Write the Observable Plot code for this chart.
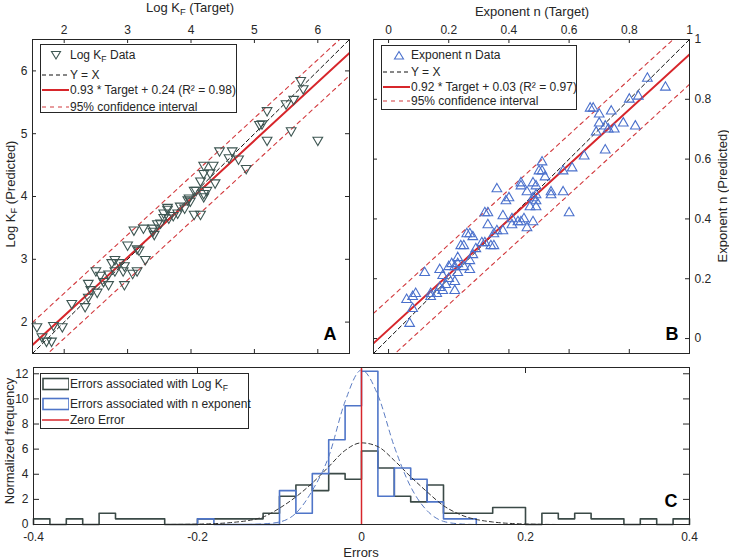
<!DOCTYPE html>
<html><head><meta charset="utf-8">
<script src="https://cdn.jsdelivr.net/npm/d3@7"></script>
<script src="https://cdn.jsdelivr.net/npm/@observablehq/plot@0.6"></script>
<style>
body{margin:0;background:#fff;}
#root{position:relative;width:729px;height:559px;font-family:"Liberation Sans",Arial,sans-serif;color:#262626;overflow:hidden;background:#fff}
#root svg{position:absolute}
.ttl{position:absolute;font-size:13px;line-height:15px;white-space:nowrap}
.rot{transform:translate(-50%,-50%) rotate(-90deg)}
.hc{transform:translateX(-50%)}
.legend{position:absolute;border:1px solid #262626;background:#fff;font-size:12px;line-height:14px;box-sizing:border-box}
.legend .row{position:absolute;left:0;white-space:nowrap}
.legend .row span{position:absolute;left:29px;top:0}
.legend .row svg{position:absolute;left:0;top:0}
sub{font-size:72%;vertical-align:-0.3em;line-height:0}
</style></head><body><div id="root"></div>
<script>
// ---------- data ----------
const kfTarget = [5.73,5.77,5.62,5.5,5.2,5.12,5.08,5.58,5.2,6.0,4.45,4.65,4.6,4.75,4.87,4.35,4.2,4.2,4.3,4.38,4.15,4.08,4.2,3.97,4.25,4.2,3.83,3.9,4.15,4.05,3.63,3.72,3.57,3.47,3.4,3.25,3.1,3.42,3.0,3.18,3.28,2.8,2.87,2.75,2.95,2.93,3.08,3.15,2.8,2.7,2.5,2.57,2.62,2.7,2.95,2.38,2.42,2.52,2.38,2.33,2.12,1.97,1.83,1.57,1.65,1.72,1.8,4.05,3.95,3.99,3.63,3.57,3.79,3.65,3.52,3.4,3.15];
const kfPred = [5.85,5.72,5.55,5.48,5.37,5.16,5.15,5.05,4.9,4.9,4.73,4.73,4.62,4.6,4.45,4.5,4.5,4.37,4.38,4.22,4.25,4.1,4.05,3.98,4.1,4.0,3.85,3.82,3.72,3.72,3.8,3.7,3.67,3.57,3.5,3.5,3.47,3.4,3.23,3.15,3.0,3.0,2.95,2.95,2.9,2.82,2.78,2.82,2.82,2.77,2.82,2.75,2.65,2.6,2.6,2.62,2.52,2.48,2.4,2.25,2.3,1.93,1.95,1.93,1.77,1.7,1.7,4.1,3.95,3.93,3.83,3.74,3.74,3.66,3.58,3.45,3.17];
const nTarget = [0.86,0.92,0.83,0.80,0.67,0.68,0.74,0.70,0.70,0.78,0.72,0.82,0.75,0.69,0.73,0.72,0.65,0.51,0.50,0.51,0.58,0.61,0.52,0.48,0.44,0.36,0.58,0.54,0.46,0.40,0.49,0.39,0.49,0.32,0.60,0.38,0.41,0.43,0.48,0.33,0.41,0.36,0.46,0.38,0.35,0.26,0.28,0.31,0.35,0.25,0.29,0.28,0.23,0.27,0.21,0.12,0.17,0.20,0.22,0.25,0.27,0.23,0.18,0.20,0.22,0.19,0.17,0.22,0.18,0.16,0.14,0.14,0.09,0.08,0.06,0.08,0.07,0.49,0.48,0.49,0.54,0.44,0.47,0.45,0.33,0.44,0.27,0.24,0.34,0.32,0.23];
const nPred = [0.87,0.84,0.81,0.80,0.77,0.77,0.76,0.75,0.72,0.72,0.71,0.71,0.70,0.69,0.70,0.63,0.61,0.59,0.56,0.56,0.56,0.57,0.54,0.52,0.52,0.50,0.49,0.49,0.49,0.47,0.48,0.46,0.44,0.42,0.42,0.41,0.40,0.39,0.39,0.38,0.38,0.36,0.37,0.36,0.35,0.35,0.34,0.32,0.31,0.31,0.30,0.28,0.27,0.26,0.25,0.22,0.23,0.24,0.24,0.24,0.23,0.22,0.21,0.20,0.19,0.18,0.17,0.16,0.16,0.15,0.14,0.15,0.15,0.14,0.13,0.10,0.05,0.51,0.47,0.46,0.48,0.51,0.44,0.40,0.42,0.39,0.35,0.31,0.31,0.32,0.25];

const kfFit = {slope: 0.93, intercept: 0.24, ci: 0.36};
const nFit = {slope: 0.92, intercept: 0.03, ci: 0.10};

const kfDomain = [1.5, 6.5];
const nDomain = [-0.05, 1];
const kfTicks = [2, 3, 4, 5, 6];
const nTicks = [0, 0.2, 0.4, 0.6, 0.8, 1];

// histograms of errors (normalized frequency), bin width 0.02
const binWidth = 0.02;
const kfErrStart = -0.4;
const kfErrHeights = [0.45,0,0.45,0,0.9,0.45,0.45,0.45,0,0,0.45,0.45,0.45,0.45,0.9,2.25,3.15,2.7,4.05,3.6,5.85,4.5,2.25,1.8,3.15,0.9,0.9,0.9,1.35,1.35,0,0.9,0.45,0.9,0.45,0.45,0,0.45,0,0.45];
const nErrStart = -0.2;
const nErrHeights = [0.45,0,0,0,0,2.7,0.9,4.05,6.75,9.45,12.2,2.25,4.5,3.6,1.8,0.45,0.45];
// fitted normal curves
const kfCurveX = [-0.24,-0.2,-0.16,-0.12,-0.1,-0.08,-0.06,-0.04,-0.02,0,0.02,0.04,0.06,0.08,0.1,0.12,0.16,0.2,0.24];
const kfCurveY = [0.0,0.03,0.15,0.6,1.3,2.2,3.3,4.6,5.9,6.5,6.2,5.1,3.8,2.6,1.5,0.8,0.2,0.04,0.0];
const nCurveX = [-0.14,-0.12,-0.1,-0.08,-0.06,-0.04,-0.02,0,0.02,0.04,0.06,0.08,0.1,0.12,0.14];
const nCurveY = [0.0,0.05,0.2,0.9,2.7,5.4,9.8,12.3,10.3,6.2,3.0,1.1,0.25,0.05,0.0];
const errDomain = [-0.4, 0.4];
const errTicks = [-0.4, -0.2, 0, 0.2, 0.4];
const freqDomain = [0, 12.5];
const freqTicks = [0, 2, 4, 6, 8, 10, 12];

// ---------- styles ----------
const C = {
  axis: "#262626", gray: "#3d5652", grayHist: "#3b4a47", blue: "#4a70cc", blueHist: "#4f75c8",
  blueCurve: "#5a7bc2", red: "#d7262b", redDash: "#d23a3e"
};
const font = {fontFamily: "'Liberation Sans', Arial, sans-serif", fontSize: "12px", color: "#262626", background: "none", overflow: "visible"};
const root = document.getElementById("root");
const fmt = d => String(d);

function boxTicks(tx, ty, iw, ih, L, sides) {
  const m = [];
  const o = {stroke: C.axis, strokeWidth: 1};
  if (sides.includes("b")) m.push(Plot.tickX(tx, {x: d => d, insetTop: ih - L, ...o}));
  if (sides.includes("t")) m.push(Plot.tickX(tx, {x: d => d, insetBottom: ih - L, ...o}));
  if (sides.includes("l")) m.push(Plot.tickY(ty, {y: d => d, insetRight: iw - L, ...o}));
  if (sides.includes("r")) m.push(Plot.tickY(ty, {y: d => d, insetLeft: iw - L, ...o}));
  return m;
}
function fitLines(fit, domain) {
  const line = off => domain.map(x => ({x, y: fit.slope * x + fit.intercept + off}));
  return [
    Plot.line(domain.map(x => ({x, y: x})), {x: "x", y: "y", stroke: "#111", strokeWidth: 1, strokeDasharray: "4,3", clip: true}),
    Plot.line(line(fit.ci), {x: "x", y: "y", stroke: C.redDash, strokeWidth: 1.1, strokeDasharray: "4,4", clip: true}),
    Plot.line(line(-fit.ci), {x: "x", y: "y", stroke: C.redDash, strokeWidth: 1.1, strokeDasharray: "4,4", clip: true}),
    Plot.line(line(0), {x: "x", y: "y", stroke: C.red, strokeWidth: 2, clip: true})
  ];
}
function place(svg, left, top) { svg.style.left = left + "px"; svg.style.top = top + "px"; root.appendChild(svg); }

// ---------- Panel A ----------
{
  const W = 365, H = 360, mL = 32, mR = 16, mT = 39, mB = 7;
  const iw = W - mL - mR, ih = H - mT - mB;
  const data = kfTarget.map((t, i) => ({t, p: kfPred[i]}));
  const svg = Plot.plot({
    width: W, height: H, marginLeft: mL, marginRight: mR, marginTop: mT, marginBottom: mB,
    x: {domain: kfDomain, axis: null}, y: {domain: kfDomain, axis: null},
    style: font,
    marks: [
      Plot.axisX(kfTicks, {anchor: "top", tickSize: 0, tickPadding: 6, label: null, fontSize: 12, tickFormat: fmt}),
      Plot.axisY(kfTicks, {anchor: "left", tickSize: 0, tickPadding: 5, label: null, fontSize: 12, tickFormat: fmt}),
      ...boxTicks(kfTicks, kfTicks, iw, ih, 4, "btlr"),
      ...fitLines(kfFit, kfDomain),
      Plot.dot(data, {x: "t", y: "p", symbol: "triangle", rotate: 180, r: 3.6, stroke: C.gray, strokeWidth: 1.1, fill: "none"}),
      Plot.frame({stroke: C.axis, strokeWidth: 1}),
      Plot.text(["A"], {frameAnchor: "bottom-right", dx: -13, dy: -14, fontSize: 18, fontWeight: "bold", fill: "#000"})
    ]
  });
  place(svg, 0, 0);
}
// ---------- Panel B ----------
{
  const W = 364, H = 360, mL = 8, mR = 40, mT = 39, mB = 7;
  const iw = W - mL - mR, ih = H - mT - mB;
  const data = nTarget.map((t, i) => ({t, p: nPred[i]}));
  const svg = Plot.plot({
    width: W, height: H, marginLeft: mL, marginRight: mR, marginTop: mT, marginBottom: mB,
    x: {domain: nDomain, axis: null}, y: {domain: nDomain, axis: null},
    style: font,
    marks: [
      Plot.axisX(nTicks, {anchor: "top", tickSize: 0, tickPadding: 6, label: null, fontSize: 12, tickFormat: fmt}),
      Plot.axisY(nTicks, {anchor: "right", tickSize: 0, tickPadding: 5, label: null, fontSize: 12, tickFormat: fmt}),
      ...boxTicks(nTicks, nTicks, iw, ih, 4, "btlr"),
      ...fitLines(nFit, nDomain),
      Plot.dot(data, {x: "t", y: "p", symbol: "triangle", r: 3.6, stroke: C.blue, strokeWidth: 1.1, fill: "none"}),
      Plot.frame({stroke: C.axis, strokeWidth: 1}),
      Plot.text(["B"], {frameAnchor: "bottom-right", dx: -11, dy: -14, fontSize: 18, fontWeight: "bold", fill: "#000"})
    ]
  });
  place(svg, 365, 0);
}
// ---------- Panel C ----------
{
  const W = 729, H = 199, mL = 33, mR = 40, mT = 7, mB = 35;
  const iw = W - mL - mR, ih = H - mT - mB;
  const steps = (start, hs) => {
    const pts = [{x: start, y: 0}];
    hs.forEach((h, i) => pts.push({x: start + i * binWidth, y: h}));
    const end = start + hs.length * binWidth;
    pts.push({x: end, y: hs[hs.length - 1]}, {x: end, y: 0});
    return pts;
  };
  const svg = Plot.plot({
    width: W, height: H, marginLeft: mL, marginRight: mR, marginTop: mT, marginBottom: mB,
    x: {domain: errDomain, axis: null}, y: {domain: freqDomain, axis: null},
    style: font,
    marks: [
      Plot.axisX(errTicks, {anchor: "bottom", tickSize: 0, tickPadding: 8, label: null, fontSize: 12, tickFormat: fmt}),
      Plot.axisY(freqTicks, {anchor: "left", tickSize: 0, tickPadding: 5, label: null, fontSize: 12, tickFormat: fmt}),
      ...boxTicks(errTicks, freqTicks, iw, ih, 6, "btlr"),
      Plot.line(steps(kfErrStart, kfErrHeights), {x: "x", y: "y", curve: "step-after", stroke: C.grayHist, strokeWidth: 1.6}),
      Plot.line(steps(nErrStart, nErrHeights), {x: "x", y: "y", curve: "step-after", stroke: C.blueHist, strokeWidth: 1.6}),
      Plot.line(kfCurveX.map((x, i) => ({x, y: kfCurveY[i]})), {x: "x", y: "y", curve: "monotone-x", stroke: "#333", strokeWidth: 1, strokeDasharray: "4,3"}),
      Plot.line(nCurveX.map((x, i) => ({x, y: nCurveY[i]})), {x: "x", y: "y", curve: "monotone-x", stroke: C.blueCurve, strokeWidth: 1, strokeDasharray: "5,4"}),
      Plot.ruleX([0], {stroke: C.red, strokeWidth: 1.5}),
      Plot.frame({stroke: C.axis, strokeWidth: 1}),
      Plot.text(["C"], {frameAnchor: "bottom-right", dx: -12, dy: -18, fontSize: 18, fontWeight: "bold", fill: "#000"})
    ]
  });
  place(svg, 0, 360);
}

// ---------- titles ----------
function ttl(html, left, top, cls) {
  const d = document.createElement("div");
  d.className = "ttl " + (cls || "");
  d.style.left = left + "px"; d.style.top = top + "px";
  d.innerHTML = html; root.appendChild(d);
}
ttl("Log K<sub>F</sub> (Target)", 190, 0, "hc");
ttl("Exponent n (Target)", 532, 4, "hc");
ttl("Log K<sub>F</sub> (Predicted)", 10, 194, "rot");
ttl("Exponent n (Predicted)", 722, 196, "rot");
ttl("Normalized frequency", 9, 441, "rot");
ttl("Errors", 361, 545, "hc");

// ---------- legends ----------
const sw = {
  triDown: c => `<svg width="28" height="14"><path d="M10.5,3.5 L19.5,3.5 L15,11 Z" fill="none" stroke="${c}" stroke-width="1.1"/></svg>`,
  triUp: c => `<svg width="28" height="14"><path d="M12.5,11 L21.5,11 L17,3.5 Z" fill="none" stroke="${c}" stroke-width="1.1"/></svg>`,
  dash: (c, w, da) => `<svg width="28" height="14"><line x1="1" x2="28" y1="7" y2="7" stroke="${c}" stroke-width="${w}" stroke-dasharray="${da}"/></svg>`,
  line: (c, w) => `<svg width="28" height="14"><line x1="1" x2="28" y1="7" y2="7" stroke="${c}" stroke-width="${w}"/></svg>`,
  rect: c => `<svg width="28" height="14"><rect x="2" y="1.5" width="26" height="11" fill="none" stroke="${c}" stroke-width="1.6"/></svg>`
};
function legend(left, top, width, height, rows) {
  const d = document.createElement("div");
  d.className = "legend";
  Object.assign(d.style, {left: left + "px", top: top + "px", width: width + "px", height: height + "px"});
  rows.forEach(r => {
    const row = document.createElement("div");
    row.className = "row"; row.style.top = (r.y - 7) + "px";
    row.innerHTML = r.sw + `<span>${r.text}</span>`;
    d.appendChild(row);
  });
  root.appendChild(d);
}
legend(40, 44, 197, 69, [
  {y: 10, sw: sw.triDown(C.gray), text: "Log K<sub>F</sub> Data"},
  {y: 30, sw: sw.dash("#111", 1.2, "4,3"), text: "Y = X"},
  {y: 45, sw: sw.line(C.red, 2), text: "0.93 * Target + 0.24 (R² = 0.98)"},
  {y: 62, sw: sw.dash(C.redDash, 1.2, "4,4"), text: "95% confidence interval"}
]);
legend(381, 45, 196, 65, [
  {y: 9, sw: sw.triUp(C.blue), text: "Exponent n Data"},
  {y: 26, sw: sw.dash("#111", 1.2, "4,3"), text: "Y = X"},
  {y: 41, sw: sw.line(C.red, 2), text: "0.92 * Target + 0.03 (R² = 0.97)"},
  {y: 55, sw: sw.dash(C.redDash, 1.2, "4,4"), text: "95% confidence interval"}
]);
legend(40, 373, 209, 56, [
  {y: 10, sw: sw.rect(C.grayHist), text: "Errors associated with Log K<sub>F</sub>"},
  {y: 30, sw: sw.rect(C.blueHist), text: "Errors associated with n exponent"},
  {y: 46, sw: sw.line(C.red, 1.5), text: "Zero Error"}
]);
</script></body></html>
